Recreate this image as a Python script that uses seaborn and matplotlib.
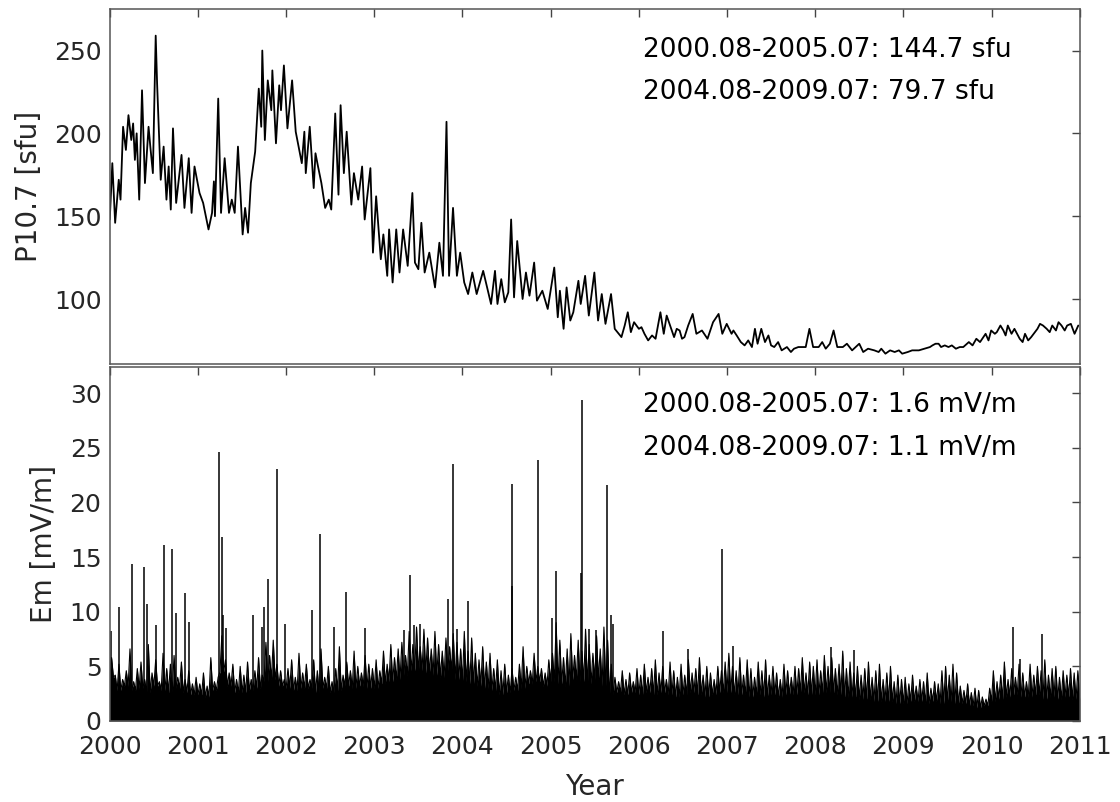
import numpy as np
import pandas as pd
import matplotlib
matplotlib.use("Agg")
import matplotlib.pyplot as plt
import seaborn as sns

# P10.7 solar index (decimal year, sfu)
p107_year = [
    2000.000, 2000.029, 2000.061, 2000.102, 2000.122, 2000.151, 2000.183, 2000.212, 2000.244, 2000.265,
    2000.285, 2000.305, 2000.334, 2000.366, 2000.399, 2000.440, 2000.460, 2000.489, 2000.521, 2000.537,
    2000.578, 2000.611, 2000.643, 2000.668, 2000.692, 2000.717, 2000.753, 2000.814, 2000.847, 2000.896,
    2000.928, 2000.961, 2001.018, 2001.059, 2001.120, 2001.160, 2001.181, 2001.193, 2001.230, 2001.262,
    2001.303, 2001.352, 2001.384, 2001.417, 2001.454, 2001.507, 2001.535, 2001.568, 2001.600, 2001.649,
    2001.690, 2001.718, 2001.730, 2001.759, 2001.792, 2001.832, 2001.844, 2001.885, 2001.922, 2001.942,
    2001.975, 2002.015, 2002.068, 2002.109, 2002.178, 2002.207, 2002.223, 2002.268, 2002.313, 2002.333,
    2002.362, 2002.400, 2002.443, 2002.484, 2002.512, 2002.557, 2002.594, 2002.618, 2002.655, 2002.687,
    2002.740, 2002.769, 2002.818, 2002.862, 2002.891, 2002.956, 2002.985, 2003.021, 2003.074, 2003.103,
    2003.147, 2003.168, 2003.208, 2003.249, 2003.286, 2003.327, 2003.379, 2003.432, 2003.461, 2003.500,
    2003.534, 2003.571, 2003.624, 2003.689, 2003.738, 2003.779, 2003.819, 2003.848, 2003.893, 2003.937,
    2003.974, 2004.020, 2004.064, 2004.112, 2004.161, 2004.235, 2004.324, 2004.369, 2004.397, 2004.440,
    2004.480, 2004.520, 2004.552, 2004.585, 2004.621, 2004.682, 2004.720, 2004.760, 2004.813, 2004.845,
    2004.906, 2004.967, 2005.041, 2005.081, 2005.105, 2005.147, 2005.181, 2005.223, 2005.257, 2005.315,
    2005.341, 2005.391, 2005.433, 2005.496, 2005.538, 2005.580, 2005.622, 2005.685, 2005.727, 2005.803,
    2005.875, 2005.946, 2006.001, 2006.064, 2006.106, 2006.190, 2006.245, 2006.283, 2006.316, 2006.400,
    2006.463, 2006.518, 2006.611, 2006.653, 2006.716, 2006.779, 2006.842, 2006.905, 2006.947, 2006.997,
    2007.052, 2007.073, 2007.157, 2007.241, 2007.283, 2007.317, 2007.347, 2007.389, 2007.431, 2007.536,
    2007.620, 2007.725, 2007.809, 2007.893, 2007.935, 2007.977, 2008.040, 2008.167, 2008.209, 2008.251,
    2008.314, 2008.419, 2008.545, 2008.671, 2008.797, 2008.902, 2008.987, 2009.050, 2009.176, 2009.302,
    2009.365, 2009.428, 2009.512, 2009.596, 2009.680, 2009.743, 2009.785, 2009.828, 2009.870, 2009.933,
    2009.966, 2009.996, 2010.038, 2010.101, 2010.135, 2010.185, 2010.227, 2010.290, 2010.353, 2010.416,
    2010.479, 2010.521, 2010.584, 2010.626, 2010.689, 2010.731, 2010.794, 2010.858, 2010.942, 2010.984,
]
p107_val = [
    148, 182, 146, 172, 160, 204, 190, 211, 196, 206,
    184, 200, 160, 226, 170, 204, 192, 176, 259, 230,
    172, 192, 160, 180, 154, 203, 158, 187, 155, 185,
    152, 180, 164, 158, 142, 152, 171, 150, 221, 152,
    185, 152, 160, 152, 192, 139, 155, 140, 170, 189,
    227, 204, 250, 196, 232, 214, 238, 194, 229, 214,
    241, 203, 232, 201, 182, 201, 176, 204, 167, 188,
    180, 170, 155, 160, 154, 212, 163, 217, 176, 201,
    157, 176, 160, 180, 148, 179, 128, 162, 124, 139,
    114, 142, 110, 142, 116, 142, 120, 164, 122, 118,
    146, 116, 128, 107, 134, 114, 207, 114, 155, 114,
    128, 110, 103, 116, 103, 117, 97, 117, 97, 112,
    98, 104, 148, 101, 135, 100, 116, 102, 122, 99,
    105, 94, 119, 89, 105, 82, 107, 87, 92, 111,
    97, 114, 90, 116, 87, 103, 85, 103, 82, 77,
    92, 86, 82, 79, 75, 76, 92, 79, 90, 77,
    81, 77, 91, 79, 81, 76, 86, 91, 79, 85,
    79, 81, 74, 75, 71, 82, 73, 82, 74, 71,
    69, 68, 71, 71, 82, 71, 71, 73, 81, 71,
    71, 69, 68, 69, 67, 68, 67, 68, 69, 71,
    73, 71, 71, 70, 71, 74, 72, 76, 74, 79,
    75, 81, 79, 84, 81, 84, 79, 79, 74, 75,
    79, 82, 84, 82, 84, 81, 84, 84, 79, 84,
]
# smaller wiggles of the quiet years, read in a second pass
p107_year_b = [
    2005.840, 2005.910, 2006.030, 2006.150, 2006.430, 2006.490, 2006.560, 2007.110, 2007.200, 2007.470,
    2007.500, 2007.580, 2007.680, 2007.760, 2008.080, 2008.120, 2008.360, 2008.460, 2008.500, 2008.600,
    2008.720, 2008.750, 2008.850, 2008.950, 2009.100, 2009.240, 2009.330, 2009.400, 2009.470, 2009.550,
    2009.640, 2010.060, 2010.160, 2010.260, 2010.320, 2010.380, 2010.450, 2010.550, 2010.660, 2010.760,
    2010.830, 2010.900,
]
p107_val_b = [
    84, 80, 83, 78, 82, 76, 84, 78, 72, 78,
    72, 74, 71, 70, 74, 70, 73, 71, 73, 70,
    68, 70, 69, 69, 69, 70, 72, 73, 72, 72,
    71, 80, 78, 82, 76, 79, 77, 85, 80, 86,
    81, 85,
]

# Em [mV/m]: monthly level of the solid black band (Jan 2000 .. Dec 2010)
em_base = [
    4.0, 2.8, 3.2, 2.8, 3.0, 2.6, 3.2, 2.8, 2.6, 3.0, 2.6, 2.4,
    2.4, 2.2, 2.8, 4.5, 3.2, 2.6, 2.6, 2.8, 3.0, 3.6, 3.8, 3.2,
    3.0, 2.8, 3.0, 3.0, 2.6, 3.0, 2.6, 2.8, 3.2, 3.0, 3.2, 3.0,
    3.0, 3.4, 3.6, 3.8, 4.2, 4.6, 4.6, 4.4, 4.2, 4.0, 4.6, 3.8,
    3.6, 3.4, 3.2, 3.0, 2.8, 2.4, 2.6, 2.8, 3.0, 3.4, 3.6, 3.2,
    3.6, 3.4, 3.2, 3.8, 3.6, 3.4, 3.8, 3.2, 2.4, 2.6, 2.4, 2.6,
    2.4, 2.6, 2.4, 2.6, 2.4, 2.2, 2.4, 2.6, 2.4, 2.2, 2.4, 2.6,
    2.6, 2.4, 2.4, 2.2, 2.4, 2.2, 2.4, 2.2, 2.4, 2.4, 2.6, 2.4,
    2.4, 2.6, 2.6, 2.4, 2.2, 2.2, 2.0, 2.0, 1.8, 1.8, 1.8, 1.6,
    1.6, 1.8, 1.8, 1.6, 1.8, 1.6, 1.8, 1.6, 1.6, 1.4, 1.2, 1.4,
    1.8, 2.0, 2.2, 2.4, 2.2, 2.2, 2.4, 2.0, 2.2, 2.0, 2.2, 2.0,
]

# Em needle tops, two per month
em_needle = [
    5.8, 4.2, 5.2, 3.8, 4.6, 6.6, 3.6, 4.8, 5.4, 3.8, 7.0, 4.4, 5.6, 3.6, 6.2, 4.8, 5.2, 6.0, 4.0, 5.4, 3.8, 4.6, 3.4, 4.0,
    3.4, 4.4, 3.2, 5.8, 3.6, 4.0, 7.8, 5.6, 4.4, 5.2, 3.8, 5.0, 4.2, 5.4, 3.8, 4.6, 5.8, 4.2, 7.2, 6.0, 7.4, 5.2, 4.6, 3.8,
    4.8, 5.6, 4.0, 6.2, 4.4, 5.2, 3.8, 5.6, 4.6, 6.6, 4.0, 5.0, 3.6, 4.8, 6.8, 4.2, 5.4, 4.6, 6.4, 5.0, 4.4, 6.0, 5.2, 4.8,
    5.6, 4.6, 6.4, 5.2, 7.0, 5.8, 6.6, 7.2, 6.0, 8.2, 7.0, 8.6, 6.8, 8.4, 7.6, 6.6, 8.2, 7.0, 6.4, 7.6, 6.8, 8.0, 7.2, 6.6,
    8.2, 6.4, 7.6, 6.2, 5.6, 6.8, 5.4, 6.2, 4.8, 5.6, 4.6, 5.2, 4.2, 4.8, 4.0, 5.2, 6.8, 5.0, 4.6, 6.2, 5.0, 4.8, 4.4, 5.6,
    6.2, 9.0, 7.4, 5.8, 6.6, 8.0, 6.0, 7.4, 6.4, 8.4, 7.0, 6.2, 7.8, 6.6, 8.6, 7.4, 5.2, 4.0, 3.6, 4.6, 3.8, 4.4, 3.6, 4.8,
    4.2, 5.2, 4.0, 4.8, 5.6, 4.4, 5.0, 3.8, 5.4, 4.6, 4.0, 5.2, 4.2, 5.6, 4.4, 4.8, 5.8, 4.2, 5.0, 4.4, 3.8, 5.0, 4.6, 5.4,
    6.2, 5.0, 4.6, 5.8, 4.2, 5.6, 4.8, 4.0, 5.4, 4.6, 5.6, 4.2, 5.0, 4.4, 3.8, 5.2, 4.6, 4.0, 5.0, 4.8, 5.8, 4.4, 5.4, 5.0,
    5.6, 4.6, 6.0, 5.0, 5.8, 4.8, 5.2, 6.4, 4.8, 5.4, 4.4, 5.0, 4.2, 4.8, 5.4, 4.0, 4.6, 5.2, 3.8, 4.4, 5.0, 3.6, 4.2, 3.8,
    4.0, 3.4, 4.2, 3.2, 3.8, 3.6, 4.4, 3.0, 3.6, 3.4, 4.6, 5.0, 4.2, 5.2, 4.4, 3.2, 2.8, 3.4, 2.6, 3.0, 2.8, 2.2, 2.0, 3.0,
    4.6, 3.6, 4.2, 5.4, 3.8, 4.8, 4.0, 5.2, 4.4, 3.6, 5.2, 4.2, 5.0, 4.6, 5.6, 4.2, 4.8, 5.0, 4.0, 4.6, 4.2, 4.8, 4.4, 4.6,
]

# isolated Em spikes
spike_year = [
    2000.012, 2000.102, 2000.257, 2000.387, 2000.428, 2000.529, 2000.611, 2000.704, 2000.753, 2000.855,
    2000.900, 2001.242, 2001.270, 2001.283, 2001.315, 2001.621, 2001.730, 2001.751, 2001.800, 2001.893,
    2001.987, 2002.288, 2002.386, 2002.545, 2002.679, 2002.891, 2003.339, 2003.408, 2003.453, 2003.522,
    2003.840, 2003.888, 2003.941, 2004.059, 2004.560, 2004.564, 2004.853, 2005.013, 2005.061, 2005.341,
    2005.357, 2005.433, 2005.509, 2005.643, 2005.685, 2005.706, 2006.274, 2006.560, 2006.947, 2007.065,
    2008.175, 2008.440, 2010.248, 2010.320, 2010.572,
]
spike_val = [
    8.2, 10.4, 14.4, 14.1, 10.7, 8.8, 16.1, 15.7, 9.9, 11.7,
    9.1, 24.6, 16.8, 9.7, 8.5, 9.7, 8.6, 10.4, 13.0, 23.1,
    8.9, 10.2, 17.1, 8.6, 11.8, 8.5, 8.3, 13.4, 8.8, 8.9,
    11.2, 23.5, 8.4, 11.0, 12.4, 21.7, 23.9, 9.4, 13.7, 13.5,
    29.4, 8.4, 8.3, 21.6, 9.7, 8.9, 8.2, 6.6, 15.7, 6.9,
    6.8, 6.5, 8.6, 5.7, 8.0,
]

years = list(range(2000, 2012))
p107_notes = ["2000.08-2005.07: 144.7 sfu", "2004.08-2009.07: 79.7 sfu"]
em_notes = ["2000.08-2005.07: 1.6 mV/m", "2004.08-2009.07: 1.1 mV/m"]

sns.set_theme(style="white")
plt.rcParams["font.family"] = ["DejaVu Sans"]

TXT = "#262626"
fig = plt.figure(figsize=(11.2, 8.02), dpi=100)
ax1 = fig.add_axes([0.098, 0.546, 0.866, 0.4426])
ax2 = fig.add_axes([0.098, 0.101, 0.866, 0.4414])

# upper panel: P10.7
df = pd.DataFrame({"year": p107_year + p107_year_b, "p107": p107_val + p107_val_b})
df = df.sort_values("year")
sns.lineplot(data=df, x="year", y="p107", ax=ax1, color="black", lw=1.3,
             estimator=None, sort=False)
ax1.set_ylim(60.7, 275)
ax1.set_yticks([100, 150, 200, 250])
ax1.set_ylabel("P10.7 [sfu]", fontsize=20, color=TXT, labelpad=8)
ax1.set_xlabel("")
ax1.tick_params(axis="x", labelbottom=False)
for i, s in enumerate(p107_notes):
    ax1.text(0.55, 0.885 - i * 0.119, s, transform=ax1.transAxes, fontsize=19,
             color="black", va="center", ha="left")

# lower panel: Em, as a spiky band (needle tops between monthly troughs)
n = len(em_needle)
zig_x = 2000 + np.arange(2 * n + 1) / 48
trough = np.append(np.repeat(em_base, 2), em_base[-1])
zig_y = np.empty(2 * n + 1)
zig_y[0::2] = trough
zig_y[1::2] = em_needle
ax2.fill_between(zig_x, 0, zig_y, color="black", lw=0)
ax2.plot(zig_x, zig_y, color="black", lw=0.8)
ax2.vlines(spike_year, 0, spike_val, color="black", lw=1.1)
ax2.set_ylim(0, 32.4)
ax2.set_yticks([0, 5, 10, 15, 20, 25, 30])
ax2.set_ylabel("Em [mV/m]", fontsize=20, color=TXT, labelpad=8)
ax2.set_xlabel("Year", fontsize=20, color=TXT, labelpad=10)
for i, s in enumerate(em_notes):
    ax2.text(0.55, 0.893 - i * 0.122, s, transform=ax2.transAxes, fontsize=19,
             color="black", va="center", ha="left")

for ax in (ax1, ax2):
    ax.set_xlim(2000, 2011)
    ax.set_xticks(years)
    ax.set_xticklabels([str(y) for y in years])
    ax.tick_params(direction="in", top=True, right=True, length=6, width=1,
                   color="#444444", labelcolor=TXT, labelsize=18)
    ax.tick_params(axis="x", pad=10)
    ax.tick_params(axis="y", pad=6)
    for sp in ax.spines.values():
        sp.set_color("#555555")
        sp.set_linewidth(1.1)
        sp.set_visible(True)
    ax.grid(False)

fig.savefig("out.png", dpi=100)
